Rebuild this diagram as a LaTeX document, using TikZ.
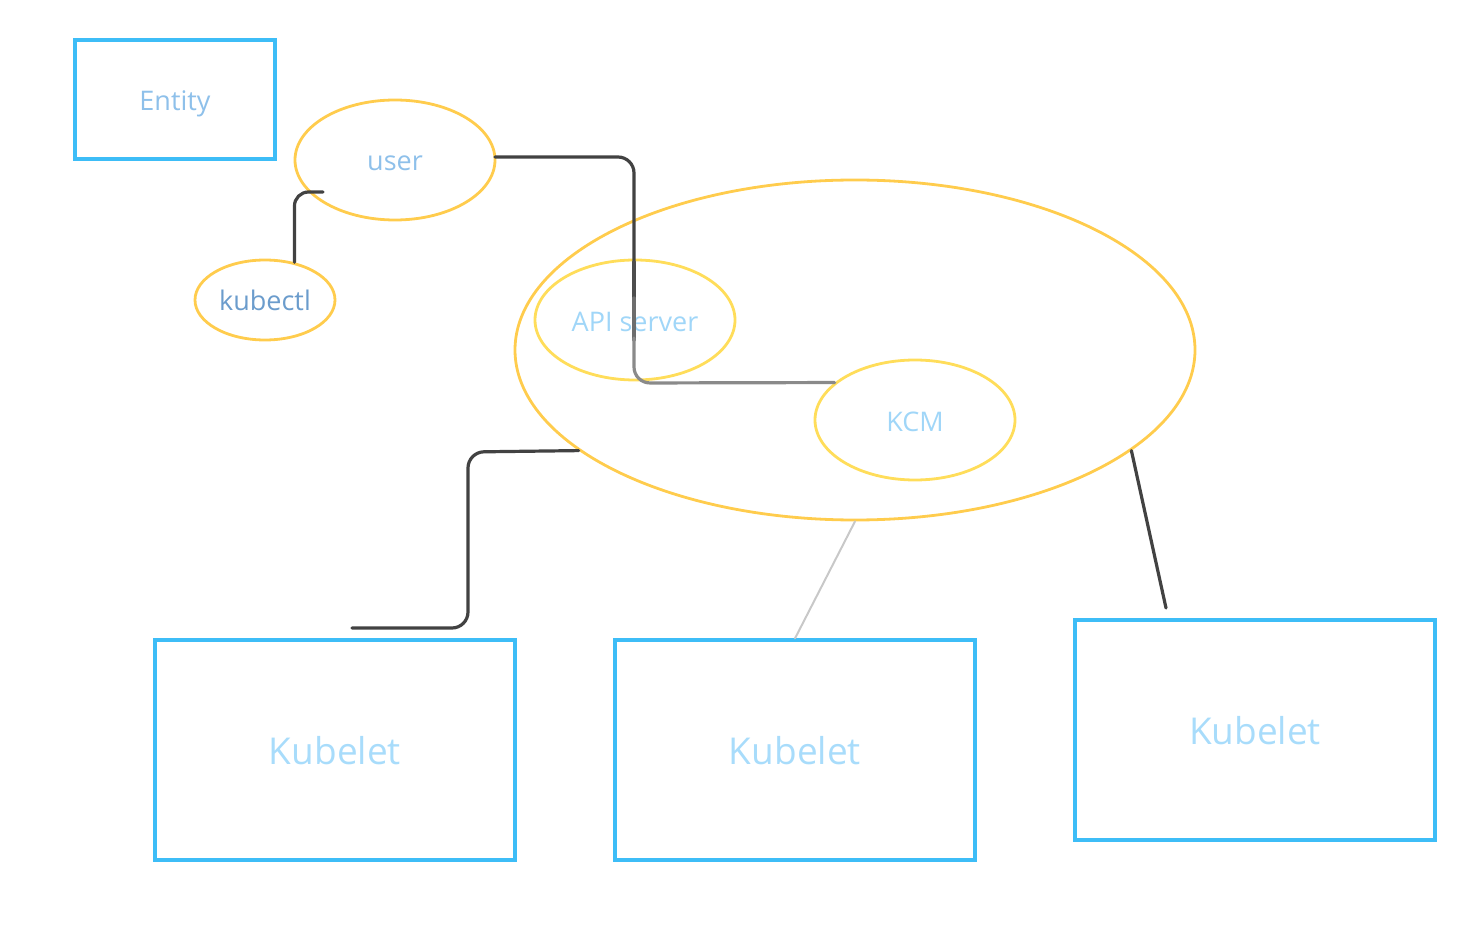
\documentclass[tikz,border=0pt]{standalone}
\usepackage{fontspec}
\setmainfont{Open Sans}
\usetikzlibrary{shapes.geometric}
\definecolor{boxblue}{RGB}{61,189,247}
\definecolor{ellyel}{RGB}{255,204,77}
\definecolor{ellyel2}{RGB}{255,221,90}
\definecolor{txtA}{RGB}{142,192,234}
\definecolor{txtB}{RGB}{107,156,204}
\definecolor{txtC}{RGB}{160,214,248}
\definecolor{txtD}{RGB}{168,220,251}
\definecolor{lnDark}{RGB}{66,66,66}
\definecolor{lnGray}{RGB}{138,138,138}
\definecolor{lnLight}{RGB}{200,200,200}
\tikzset{
  boxnode/.style={draw=boxblue, line width=3.2pt, rectangle, inner sep=0pt},
  ellnode/.style={draw=ellyel, line width=2.8pt, ellipse, inner sep=0pt},
  smalltxt/.style={font=\fontsize{27}{32}\selectfont},
  bigtxt/.style={font=\fontsize{37}{44}\selectfont},
  conn/.style={draw=lnDark, line width=3.2pt, line cap=round, rounded corners=16pt},
}
\begin{document}
\begin{tikzpicture}[x=1pt,y=-1pt]
\useasboundingbox (0,0) rectangle (1475,949);
% shapes
\node[boxnode, minimum width=200pt, minimum height=119pt] (entity) at (175,99.5) {};
\node[ellnode, minimum width=200pt, minimum height=120pt] (user) at (395,160) {};
\node[ellnode, minimum width=140pt, minimum height=80pt] (kubectl) at (265,300) {};
\node[ellnode, minimum width=680pt, minimum height=340pt] (cluster) at (855,350) {};
\node[ellnode, draw=ellyel2, minimum width=200pt, minimum height=120pt] (api) at (635,320) {};
\node[ellnode, draw=ellyel2, minimum width=200pt, minimum height=120pt] (kcm) at (915,420) {};
\node[boxnode, minimum width=360pt, minimum height=220pt] (kub1) at (335,750) {};
\node[boxnode, minimum width=360pt, minimum height=220pt] (kub2) at (795,750) {};
\node[boxnode, minimum width=360pt, minimum height=220pt] (kub3) at (1255,730) {};
% labels
\node[text=txtA, smalltxt] (entitylbl) at ([yshift=-4pt]entity.center) {Entity};
\node[text=txtA, smalltxt] (userlbl) at ([yshift=-3pt]user.center) {user};
\node[text=txtB, smalltxt] (kubectllbl) at (kubectl.center) {kubectl};
\node[text=txtC, smalltxt] (apilbl) at ([yshift=-2pt]api.center) {API server};
\node[text=txtC, smalltxt] (kcmlbl) at ([yshift=-2pt]kcm.center) {KCM};
\node[text=txtD, bigtxt] (kub1lbl) at ([yshift=-1pt]kub1.center) {Kubelet};
\node[text=txtD, bigtxt] (kub2lbl) at ([yshift=-1pt]kub2.center) {Kubelet};
\node[text=txtD, bigtxt] (kub3lbl) at ([yshift=-1pt]kub3.center) {Kubelet};
% free ends
\coordinate (kubectlend) at (323,192);
\coordinate (k1end) at (352,628);
\coordinate (k3end) at (1166,608);
\coordinate (ustart) at (495,157);
\coordinate (bendA) at (634,157);
% connectors
\draw[conn, rounded corners=14pt] (kubectl.52) |- (kubectlend);
\draw[conn] (ustart) -- (bendA) -- (634,265);
\draw[conn, draw=lnDark!85!lnGray, rounded corners=0pt] (634,262) -- (634,300);
\draw[conn, draw=lnDark!40!lnGray, rounded corners=0pt] (634,298) -- (634,340);
\draw[conn, draw=lnGray] (634,338) -- (634,383) -- (kcm.155.2);
\draw[conn] (cluster.200.6) -- (468,452) -- (468,628) -- (k1end);
\draw[conn, draw=lnLight, line width=2pt] (cluster.south) -- (kub2.north);
\draw[conn] (cluster.-20.6) -- (k3end);
\end{tikzpicture}
\end{document}
